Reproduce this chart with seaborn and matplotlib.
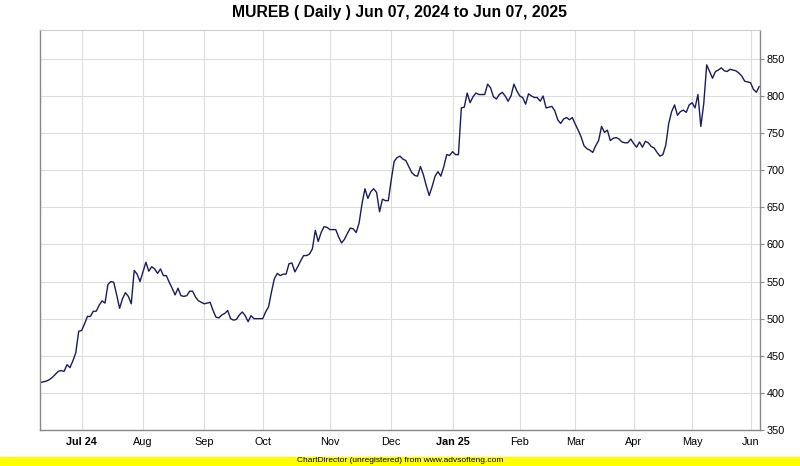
import matplotlib
matplotlib.use('Agg')
import matplotlib.pyplot as plt
from matplotlib.patches import Rectangle
import seaborn as sns
import numpy as np
import pandas as pd

title = 'MUREB ( Daily ) Jun 07, 2024 to Jun 07, 2025'
footer = 'ChartDirector (unregistered) from www.advsofteng.com'

# market holidays (no trading rows)
holidays = ['2024-06-10', '2024-06-17', '2024-07-08', '2024-07-19', '2024-08-15',
            '2024-09-16', '2024-12-25', '2025-02-11', '2025-03-31', '2025-04-01',
            '2025-04-18', '2025-05-01', '2025-05-12', '2025-06-02']

# daily close
close = [
    414, 415, 416, 418, 421, 425, 429, 430, 429, 438, 434, 443, 454, 483, 484, 493,
    503, 503, 510, 510, 518, 524, 521, 546, 550, 549, 532, 514, 527, 535, 530, 520,
    565, 560, 550, 563, 576, 564, 570, 567, 561, 567, 558,
    558, 549, 541, 532, 541, 531, 530, 531, 537, 537, 529, 524, 522, 520, 521, 522,
    511, 502, 501, 505, 507, 511, 500, 498, 499, 505, 509, 504, 496, 504, 500, 500,
    500, 500, 509, 516, 536, 554, 561, 558, 560,
    560, 574, 575, 563, 570, 578, 585, 585, 587, 594, 619, 604, 616, 624, 623, 620,
    620, 620, 610, 602, 607, 615, 622, 621, 616, 629, 655, 675, 662, 671, 675, 670,
    644, 661, 659, 659, 687, 712, 717, 719, 715,
    713, 705, 697, 693, 692, 705, 694, 679, 666, 678, 692, 698, 692, 705, 721, 720,
    725, 721, 721, 784, 785, 804, 791, 799, 804, 802, 802, 802, 816, 811, 799, 796,
    802, 805, 800, 793, 800, 816, 807, 800, 798,
    789, 803, 800, 798, 798, 793, 800, 784, 785, 786, 780, 768, 763, 769, 771, 768,
    771, 762, 754, 745, 733, 729, 727, 724, 733, 740, 759, 751, 754, 740, 743, 744,
    742, 738, 737, 737, 742, 736, 731, 738,
    731, 739, 737, 732, 730, 724, 719, 721, 734, 763, 779, 788, 774, 779, 781, 778,
    788, 791, 784, 802, 759, 790, 842, 833, 824, 833, 835, 838, 834, 833, 836, 835,
    834, 831, 827, 820, 819, 818, 809, 805, 813,
]
y_ticks = list(range(350, 851, 50))

days = pd.bdate_range('2024-06-07', '2025-06-06')
days = days[~days.isin(pd.to_datetime(holidays))][:len(close)]
df = pd.DataFrame({'idx': np.arange(len(days)), 'close': close[:len(days)]})

sns.set_style('white')
plt.rcParams['font.family'] = ['Liberation Sans', 'DejaVu Sans']

fig = plt.figure(figsize=(8, 4.66), dpi=100)
ax = fig.add_axes([0.05, 0.0773, 0.9, 0.8584])
sns.lineplot(data=df, x='idx', y='close', ax=ax, color='#1b1b5e', linewidth=1.0)

# month ticks on first trading day of each month
per = days.to_period('M')
starts = [i for i in range(1, len(days)) if per[i] != per[i - 1]]
labels = []
for k, i in enumerate(starts):
    d = days[i]
    if k == 0 or d.month == 1:
        labels.append(d.strftime('%b %y'))
    else:
        labels.append(d.strftime('%b'))
ax.set_xticks(starts)
ax.set_xticklabels(labels)
for t in ax.get_xticklabels():
    if ' ' in t.get_text():
        t.set_fontweight('bold')

ax.set_xlim(-0.25, len(days) - 0.75)
ax.set_ylim(350, 889)
ax.set_yticks(y_ticks)
ax.yaxis.tick_right()
ax.tick_params(axis='y', direction='out', length=3, color='#888888', labelsize=7.8,
               pad=2, labelcolor='black')
ax.tick_params(axis='x', length=0, labelsize=7.8, pad=5, labelcolor='black')
ax.grid(True, color='#dddddd', linewidth=0.8)
ax.set_xlabel('')
ax.set_ylabel('')
for s in ['left', 'bottom', 'right']:
    ax.spines[s].set_color('#888888')
    ax.spines[s].set_linewidth(1)
ax.spines['top'].set_color('#cccccc')

fig.text(0.5, 1 - 12 / 466, title, ha='center', va='center', fontsize=11.3,
         fontweight='bold', color='black')
fig.patches.append(Rectangle((0, 0), 1, 9.5 / 466, transform=fig.transFigure, color='#ffff00'))
fig.text(0.5, 5 / 466, footer, ha='center', va='center', fontsize=6, color='black')

fig.savefig('out.png', dpi=100)
